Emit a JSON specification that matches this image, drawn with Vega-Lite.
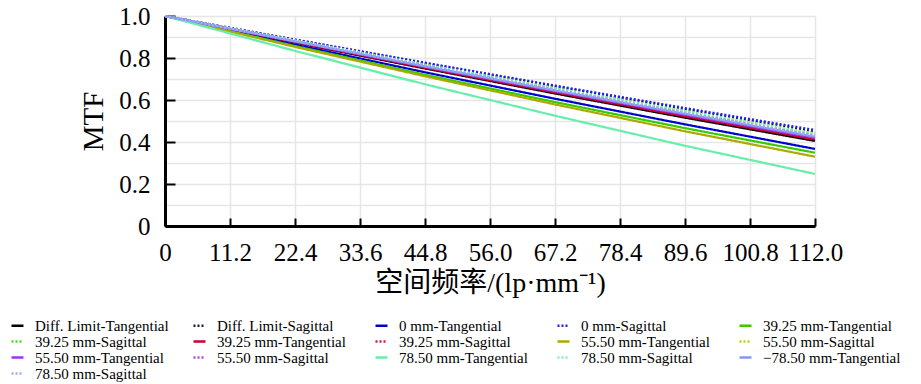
{
  "$schema": "https://vega.github.io/schema/vega-lite/v6.json",
  "width": 650,
  "height": 210,
  "autosize": {"type": "none"},
  "padding": {"left": 165, "top": 16, "right": 106, "bottom": 158},
  "background": "white",
  "config": {
    "view": {"stroke": null},
    "font": "Liberation Serif",
    "axis": {
      "labelFont": "Liberation Serif",
      "titleFont": "Liberation Serif, Noto Sans CJK SC",
      "labelColor": "black",
      "titleColor": "black",
      "titleFontWeight": "normal",
      "domainColor": "black",
      "domainWidth": 3,
      "tickColor": "black",
      "tickWidth": 2,
      "gridColor": "#e6e6e6",
      "gridWidth": 1.5
    }
  },
  "data": {
    "values": [
      {"s": "Diff. Limit-Tangential", "f": 0, "m": 1.0},
      {"s": "Diff. Limit-Tangential", "f": 22.4, "m": 0.873},
      {"s": "Diff. Limit-Tangential", "f": 44.8, "m": 0.750},
      {"s": "Diff. Limit-Tangential", "f": 67.2, "m": 0.631},
      {"s": "Diff. Limit-Tangential", "f": 89.6, "m": 0.516},
      {"s": "Diff. Limit-Tangential", "f": 112, "m": 0.405},
      {"s": "Diff. Limit-Sagittal", "f": 0, "m": 1.0},
      {"s": "Diff. Limit-Sagittal", "f": 22.4, "m": 0.887},
      {"s": "Diff. Limit-Sagittal", "f": 44.8, "m": 0.775},
      {"s": "Diff. Limit-Sagittal", "f": 67.2, "m": 0.665},
      {"s": "Diff. Limit-Sagittal", "f": 89.6, "m": 0.557},
      {"s": "Diff. Limit-Sagittal", "f": 112, "m": 0.450},
      {"s": "0 mm-Tangential", "f": 0, "m": 1.0},
      {"s": "0 mm-Tangential", "f": 22.4, "m": 0.864},
      {"s": "0 mm-Tangential", "f": 44.8, "m": 0.732},
      {"s": "0 mm-Tangential", "f": 67.2, "m": 0.606},
      {"s": "0 mm-Tangential", "f": 89.6, "m": 0.484},
      {"s": "0 mm-Tangential", "f": 112, "m": 0.367},
      {"s": "0 mm-Sagittal", "f": 0, "m": 1.0},
      {"s": "0 mm-Sagittal", "f": 22.4, "m": 0.888},
      {"s": "0 mm-Sagittal", "f": 44.8, "m": 0.778},
      {"s": "0 mm-Sagittal", "f": 67.2, "m": 0.669},
      {"s": "0 mm-Sagittal", "f": 89.6, "m": 0.562},
      {"s": "0 mm-Sagittal", "f": 112, "m": 0.457},
      {"s": "39.25 mm-Tangential", "f": 0, "m": 1.0},
      {"s": "39.25 mm-Tangential", "f": 22.4, "m": 0.857},
      {"s": "39.25 mm-Tangential", "f": 44.8, "m": 0.720},
      {"s": "39.25 mm-Tangential", "f": 67.2, "m": 0.590},
      {"s": "39.25 mm-Tangential", "f": 89.6, "m": 0.466},
      {"s": "39.25 mm-Tangential", "f": 112, "m": 0.349},
      {"s": "39.25 mm-Sagittal", "f": 0, "m": 1.0},
      {"s": "39.25 mm-Sagittal", "f": 22.4, "m": 0.883},
      {"s": "39.25 mm-Sagittal", "f": 44.8, "m": 0.768},
      {"s": "39.25 mm-Sagittal", "f": 67.2, "m": 0.656},
      {"s": "39.25 mm-Sagittal", "f": 89.6, "m": 0.547},
      {"s": "39.25 mm-Sagittal", "f": 112, "m": 0.440},
      {"s": "39.25 mm-Tangential ", "f": 0, "m": 1.0},
      {"s": "39.25 mm-Tangential ", "f": 22.4, "m": 0.875},
      {"s": "39.25 mm-Tangential ", "f": 44.8, "m": 0.753},
      {"s": "39.25 mm-Tangential ", "f": 67.2, "m": 0.636},
      {"s": "39.25 mm-Tangential ", "f": 89.6, "m": 0.522},
      {"s": "39.25 mm-Tangential ", "f": 112, "m": 0.412},
      {"s": "39.25 mm-Sagittal ", "f": 0, "m": 1.0},
      {"s": "39.25 mm-Sagittal ", "f": 22.4, "m": 0.878},
      {"s": "39.25 mm-Sagittal ", "f": 44.8, "m": 0.758},
      {"s": "39.25 mm-Sagittal ", "f": 67.2, "m": 0.642},
      {"s": "39.25 mm-Sagittal ", "f": 89.6, "m": 0.530},
      {"s": "39.25 mm-Sagittal ", "f": 112, "m": 0.420},
      {"s": "55.50 mm-Tangential", "f": 0, "m": 1.0},
      {"s": "55.50 mm-Tangential", "f": 22.4, "m": 0.853},
      {"s": "55.50 mm-Tangential", "f": 44.8, "m": 0.713},
      {"s": "55.50 mm-Tangential", "f": 67.2, "m": 0.579},
      {"s": "55.50 mm-Tangential", "f": 89.6, "m": 0.451},
      {"s": "55.50 mm-Tangential", "f": 112, "m": 0.330},
      {"s": "55.50 mm-Sagittal", "f": 0, "m": 1.0},
      {"s": "55.50 mm-Sagittal", "f": 22.4, "m": 0.882},
      {"s": "55.50 mm-Sagittal", "f": 44.8, "m": 0.766},
      {"s": "55.50 mm-Sagittal", "f": 67.2, "m": 0.653},
      {"s": "55.50 mm-Sagittal", "f": 89.6, "m": 0.543},
      {"s": "55.50 mm-Sagittal", "f": 112, "m": 0.435},
      {"s": "55.50 mm-Tangential ", "f": 0, "m": 1.0},
      {"s": "55.50 mm-Tangential ", "f": 22.4, "m": 0.878},
      {"s": "55.50 mm-Tangential ", "f": 44.8, "m": 0.758},
      {"s": "55.50 mm-Tangential ", "f": 67.2, "m": 0.642},
      {"s": "55.50 mm-Tangential ", "f": 89.6, "m": 0.530},
      {"s": "55.50 mm-Tangential ", "f": 112, "m": 0.420},
      {"s": "55.50 mm-Sagittal ", "f": 0, "m": 1.0},
      {"s": "55.50 mm-Sagittal ", "f": 22.4, "m": 0.881},
      {"s": "55.50 mm-Sagittal ", "f": 44.8, "m": 0.764},
      {"s": "55.50 mm-Sagittal ", "f": 67.2, "m": 0.650},
      {"s": "55.50 mm-Sagittal ", "f": 89.6, "m": 0.539},
      {"s": "55.50 mm-Sagittal ", "f": 112, "m": 0.430},
      {"s": "78.50 mm-Tangential", "f": 0, "m": 1.0},
      {"s": "78.50 mm-Tangential", "f": 22.4, "m": 0.834},
      {"s": "78.50 mm-Tangential", "f": 44.8, "m": 0.675},
      {"s": "78.50 mm-Tangential", "f": 67.2, "m": 0.525},
      {"s": "78.50 mm-Tangential", "f": 89.6, "m": 0.382},
      {"s": "78.50 mm-Tangential", "f": 112, "m": 0.248},
      {"s": "78.50 mm-Sagittal", "f": 0, "m": 1.0},
      {"s": "78.50 mm-Sagittal", "f": 22.4, "m": 0.883},
      {"s": "78.50 mm-Sagittal", "f": 44.8, "m": 0.768},
      {"s": "78.50 mm-Sagittal", "f": 67.2, "m": 0.656},
      {"s": "78.50 mm-Sagittal", "f": 89.6, "m": 0.547},
      {"s": "78.50 mm-Sagittal", "f": 112, "m": 0.440},
      {"s": "−78.50 mm-Tangential", "f": 0, "m": 1.0},
      {"s": "−78.50 mm-Tangential", "f": 22.4, "m": 0.879},
      {"s": "−78.50 mm-Tangential", "f": 44.8, "m": 0.760},
      {"s": "−78.50 mm-Tangential", "f": 67.2, "m": 0.645},
      {"s": "−78.50 mm-Tangential", "f": 89.6, "m": 0.534},
      {"s": "−78.50 mm-Tangential", "f": 112, "m": 0.425},
      {"s": "78.50 mm-Sagittal ", "f": 0, "m": 1.0},
      {"s": "78.50 mm-Sagittal ", "f": 22.4, "m": 0.881},
      {"s": "78.50 mm-Sagittal ", "f": 44.8, "m": 0.764},
      {"s": "78.50 mm-Sagittal ", "f": 67.2, "m": 0.650},
      {"s": "78.50 mm-Sagittal ", "f": 89.6, "m": 0.539},
      {"s": "78.50 mm-Sagittal ", "f": 112, "m": 0.430}
    ]
  },
  "mark": {"type": "line", "strokeWidth": 2.2},
  "encoding": {
    "x": {
      "field": "f",
      "type": "quantitative",
      "scale": {"domain": [0, 112], "nice": false, "zero": true},
      "axis": {
        "values": [0, 11.2, 22.4, 33.6, 44.8, 56, 67.2, 78.4, 89.6, 100.8, 112],
        "labelExpr": "datum.value == 0 ? '0' : format(datum.value, '.1f')",
        "labelFlush": false,
        "labelFontSize": 25,
        "labelPadding": 22,
        "tickSize": -8,
        "grid": true,
        "title": "空间频率/(lp·mm⁻¹)",
        "titleFontSize": 28,
        "titlePadding": 4
      }
    },
    "y": {
      "field": "m",
      "type": "quantitative",
      "scale": {"domain": [0, 1], "nice": false},
      "axis": {
        "values": [0, 0.1, 0.2, 0.3, 0.4, 0.5, 0.6, 0.7, 0.8, 0.9, 1.0],
        "labelExpr": "round(datum.value * 10) % 2 == 1 ? '' : (datum.value == 0 ? '0' : format(datum.value, '.1f'))",
        "tickOpacity": {"condition": {"test": "round(datum.value * 10) % 2 == 1", "value": 0}, "value": 1},
        "labelFlush": false,
        "labelFontSize": 25,
        "labelPadding": 25,
        "tickSize": -10,
        "grid": true,
        "title": "MTF",
        "titleFontSize": 29,
        "titlePadding": 10
      }
    },
    "color": {
      "field": "s",
      "type": "nominal",
      "scale": {
        "domain": ["Diff. Limit-Tangential", "Diff. Limit-Sagittal", "0 mm-Tangential", "0 mm-Sagittal", "39.25 mm-Tangential", "39.25 mm-Sagittal", "39.25 mm-Tangential ", "39.25 mm-Sagittal ", "55.50 mm-Tangential", "55.50 mm-Sagittal", "55.50 mm-Tangential ", "55.50 mm-Sagittal ", "78.50 mm-Tangential", "78.50 mm-Sagittal", "−78.50 mm-Tangential", "78.50 mm-Sagittal "],
        "range": ["#000000", "#1c1c3c", "#0000d0", "#2020ff", "#33cc00", "#44dd22", "#cc0033", "#e0103a", "#aaaa00", "#c8c820", "#9933ff", "#aa44ff", "#66eeaa", "#80f0c0", "#8899ee", "#99aaff"]
      },
      "legend": {
        "title": null,
        "orient": "none",
        "legendX": -155,
        "legendY": 302,
        "direction": "horizontal",
        "columns": 5,
        "gridAlign": "all",
        "columnPadding": 15,
        "rowPadding": 0,
        "symbolType": "stroke",
        "symbolSize": 144,
        "symbolStrokeWidth": 2.5,
        "labelFont": "Liberation Serif",
        "labelFontSize": 15,
        "labelColor": "black",
        "labelOffset": 10,
        "labelLimit": 300
      }
    },
    "strokeDash": {
      "field": "s",
      "type": "nominal",
      "scale": {
        "domain": ["Diff. Limit-Tangential", "Diff. Limit-Sagittal", "0 mm-Tangential", "0 mm-Sagittal", "39.25 mm-Tangential", "39.25 mm-Sagittal", "39.25 mm-Tangential ", "39.25 mm-Sagittal ", "55.50 mm-Tangential", "55.50 mm-Sagittal", "55.50 mm-Tangential ", "55.50 mm-Sagittal ", "78.50 mm-Tangential", "78.50 mm-Sagittal", "−78.50 mm-Tangential", "78.50 mm-Sagittal "],
        "range": [[1, 0], [2, 2], [1, 0], [2, 2], [1, 0], [2, 2], [1, 0], [2, 2], [1, 0], [2, 2], [1, 0], [2, 2], [1, 0], [2, 2], [1, 0], [2, 2]]
      }
    }
  }
}
